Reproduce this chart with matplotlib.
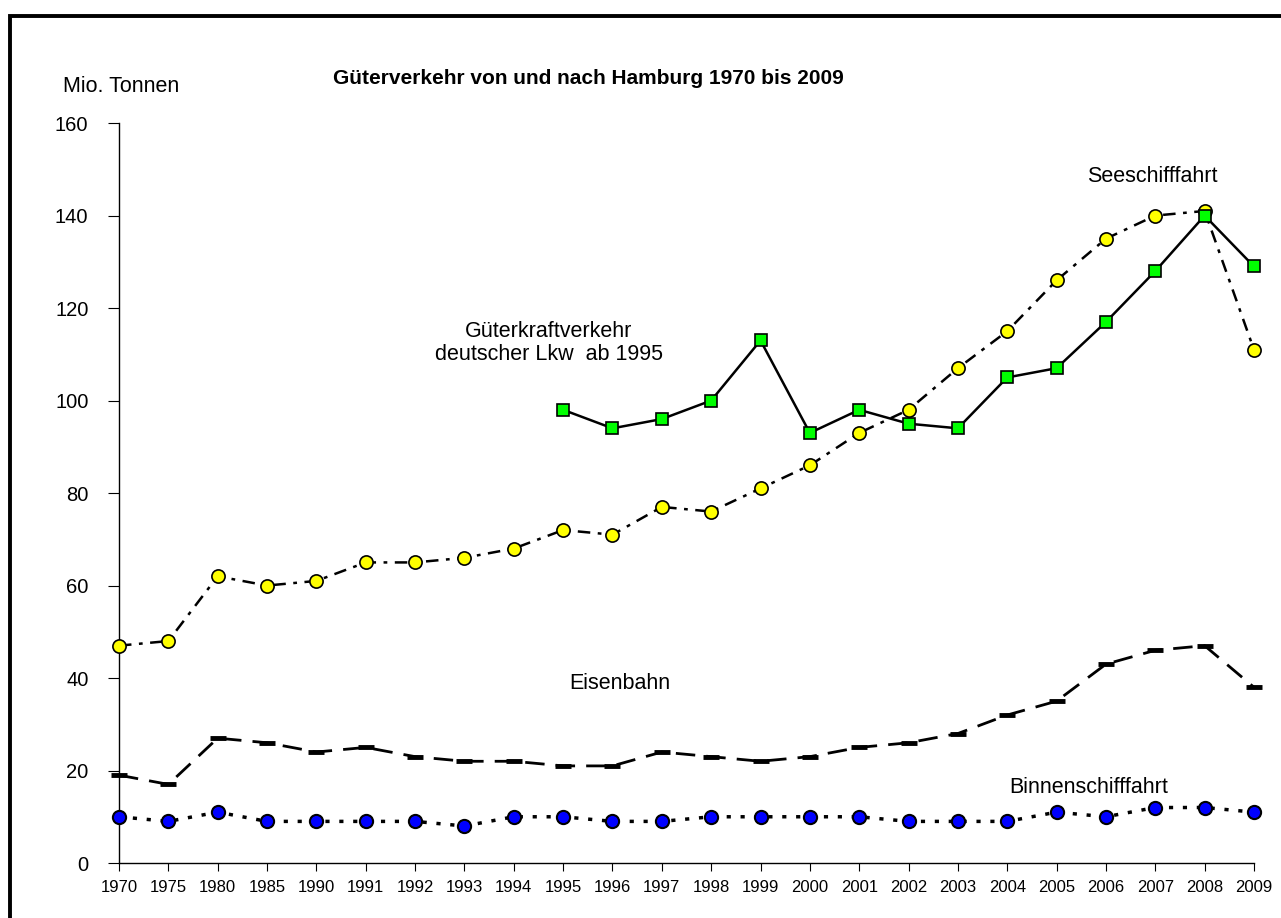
import numpy as np
import matplotlib
matplotlib.use('Agg')
import matplotlib.pyplot as plt
from matplotlib.patches import Rectangle

years = ['1970', '1975', '1980', '1985', '1990', '1991', '1992', '1993', '1994', '1995',
         '1996', '1997', '1998', '1999', '2000', '2001', '2002', '2003', '2004', '2005',
         '2006', '2007', '2008', '2009']
seeschifffahrt = [47, 48, 62, 60, 61, 65, 65, 66, 68, 72, 71, 77, 76, 81, 86, 93, 98, 107,
                  115, 126, 135, 140, 141, 111]
lkw_start = 9  # ab 1995
lkw = [98, 94, 96, 100, 113, 93, 98, 95, 94, 105, 107, 117, 128, 140, 129]
eisenbahn = [19, 17, 27, 26, 24, 25, 23, 22, 22, 21, 21, 24, 23, 22, 23, 25, 26, 28, 32, 35,
             43, 46, 47, 38]
binnenschifffahrt = [10, 9, 11, 9, 9, 9, 9, 8, 10, 10, 9, 9, 10, 10, 10, 10, 9, 9, 9, 11, 10,
                     12, 12, 11]

plt.rcParams['font.family'] = ['Liberation Sans', 'DejaVu Sans']

fig = plt.figure(figsize=(12.81, 9.18), dpi=100)
ax = fig.add_axes([0.0929, 0.0599, 0.886, 0.806])

x = np.arange(len(years))
x_lkw = x[lkw_start:]

ax.plot(x, eisenbahn, color='black', lw=2, linestyle=(0, (7, 4)),
        marker='_', markersize=11, markeredgewidth=3.5, zorder=2)
ax.plot(x, binnenschifffahrt, color='black', lw=2.5, linestyle=(0, (1.2, 2.8)),
        marker='o', markersize=9.5, markerfacecolor='#0000ff', markeredgecolor='black',
        markeredgewidth=1.5, zorder=3)
ax.plot(x, seeschifffahrt, color='black', lw=1.8, linestyle=(0, (5, 3, 1.5, 3)),
        marker='o', markersize=9.5, markerfacecolor='#ffff00', markeredgecolor='black',
        markeredgewidth=1.2, zorder=3)
ax.plot(x_lkw, lkw, color='black', lw=1.8, linestyle='-',
        marker='s', markersize=8.5, markerfacecolor='#00ff00', markeredgecolor='black',
        markeredgewidth=1.2, zorder=4)

ax.set_xlim(0, len(years) - 1)
ax.set_ylim(0, 160)
ax.set_yticks(np.arange(0, 161, 20))
ax.set_xticks(x)
ax.set_xticklabels(years)
ax.tick_params(axis='y', labelsize=14.5, direction='out', length=8, pad=14)
ax.tick_params(axis='x', labelsize=12, direction='out', length=6, pad=6)
for s in ['top', 'right']:
    ax.spines[s].set_visible(False)
for s in ['left', 'bottom']:
    ax.spines[s].set_linewidth(1.0)
for line in ax.lines:
    line.set_clip_on(False)

fig.text(63 / 1281, 1 - 86 / 918, 'Mio. Tonnen', fontsize=15.5, va='center', ha='left')
fig.text(588 / 1281, 1 - 78 / 918, 'Güterverkehr von und nach Hamburg 1970 bis 2009',
         fontsize=15, fontweight='bold', ha='center', va='center')

ax.text(8.71, 112.4, 'Güterkraftverkehr\ndeutscher Lkw  ab 1995', fontsize=15.5,
        ha='center', va='center', linespacing=1.15)
ax.text(20.93, 148.5, 'Seeschifffahrt', fontsize=15.5, ha='center', va='center')
ax.text(10.15, 38.9, 'Eisenbahn', fontsize=15.5, ha='center', va='center')
ax.text(19.66, 16.4, 'Binnenschifffahrt', fontsize=15.5, ha='center', va='center')

# frame: only left and top edges fall inside the picture
fig.patches.append(Rectangle((10 / 1281, -0.05), 1.1, 1.05 - 15.5 / 918,
                             transform=fig.transFigure, fill=False, edgecolor='black',
                             linewidth=2.8))

fig.savefig('out.png', dpi=100)
